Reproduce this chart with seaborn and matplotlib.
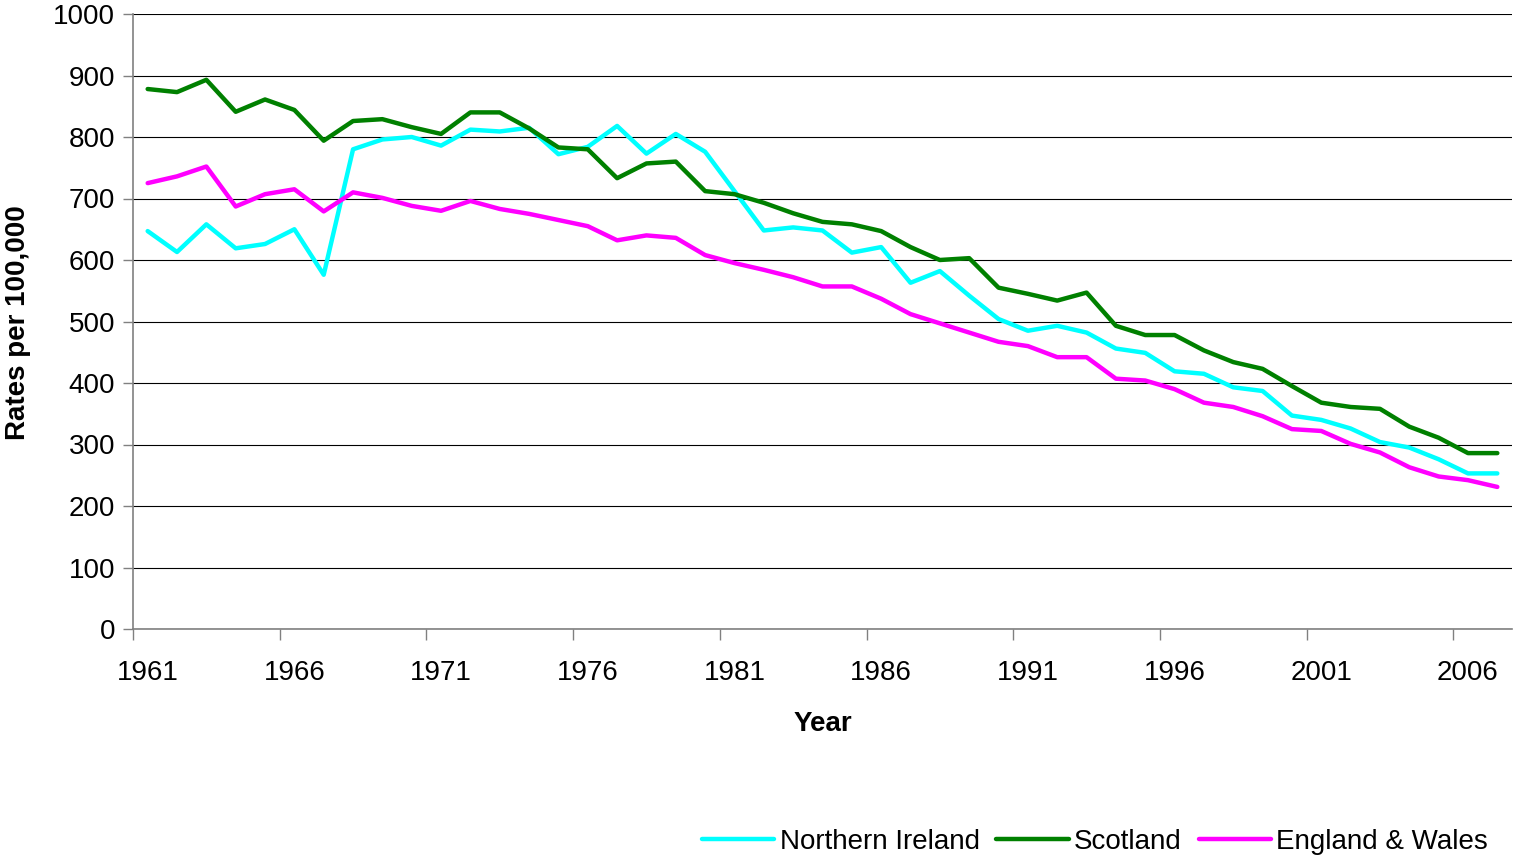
import numpy as np
import pandas as pd
import matplotlib
matplotlib.use("Agg")
import matplotlib.pyplot as plt
import seaborn as sns
from matplotlib.ticker import FixedLocator, NullFormatter, FixedFormatter

years = list(range(1961, 2008))

northern_ireland = [647, 613, 658, 619, 626, 650, 576, 780, 796, 800,
                    786, 812, 809, 815, 772, 784, 818, 773, 805, 776,
                    712, 648, 653, 648, 612, 621, 563, 582, 542, 504,
                    485, 493, 482, 456, 449, 419, 415, 393, 387, 347,
                    340, 326, 304, 295, 276, 253, 253]

scotland = [878, 873, 893, 841, 861, 844, 794, 826, 829, 816,
            805, 840, 840, 814, 783, 780, 733, 757, 760, 712,
            707, 693, 676, 662, 658, 647, 621, 600, 603, 555,
            545, 534, 547, 493, 478, 478, 453, 434, 423, 395,
            368, 361, 358, 329, 311, 286, 286]

england_wales = [725, 736, 752, 687, 707, 715, 679, 710, 701, 688,
                 680, 696, 683, 675, 665, 655, 632, 640, 636, 608,
                 595, 584, 572, 557, 557, 537, 512, 497, 482, 467,
                 460, 442, 442, 407, 404, 390, 368, 361, 346, 325,
                 322, 301, 287, 263, 248, 242, 231]

series_names = ["Northern Ireland", "Scotland", "England & Wales"]
series_colors = ["#00FFFF", "#008000", "#FF00FF"]
tick_years = [1961, 1966, 1971, 1976, 1981, 1986, 1991, 1996, 2001, 2006]
y_ticks = list(range(0, 1001, 100))

df = pd.DataFrame({
    "Year": years * 3,
    "Rate": northern_ireland + scotland + england_wales,
    "Country": sum([[n] * len(years) for n in series_names], []),
})

sns.set_theme(style="white")
plt.rcParams["font.family"] = ["Liberation Sans", "DejaVu Sans"]
plt.rcParams["text.color"] = "black"
plt.rcParams["xtick.color"] = "black"
plt.rcParams["ytick.color"] = "black"
plt.rcParams["axes.labelcolor"] = "black"

W, H = 1514, 857
fig = plt.figure(figsize=(W / 100, H / 100), dpi=100)
ax = fig.add_axes([133 / W, 1 - 629 / H, (1512 - 133) / W, (629 - 14) / H])

sns.lineplot(data=df, x="Year", y="Rate", hue="Country",
             hue_order=series_names, palette=series_colors,
             linewidth=3.2, ax=ax, legend=False, sort=False)

ax.set_xlim(years[0] - 0.5, years[-1] + 0.5)
ax.set_ylim(0, 1000)

# y axis
ax.set_yticks(y_ticks)
ax.set_yticklabels([str(v) for v in y_ticks])
ax.grid(axis="y", color="black", linewidth=0.8)
ax.grid(axis="x", visible=False)
ax.tick_params(axis="y", which="major", length=7, width=1, color="#808080",
               labelcolor="black", direction="out", labelsize=20, pad=6,
               left=True)

# x axis: tick marks at category boundaries, labels at category centers
boundaries = [y - 0.5 for y in tick_years]
ax.xaxis.set_major_locator(FixedLocator(boundaries))
ax.xaxis.set_major_formatter(NullFormatter())
ax.xaxis.set_minor_locator(FixedLocator(tick_years))
ax.xaxis.set_minor_formatter(FixedFormatter([str(y) for y in tick_years]))
ax.tick_params(axis="x", which="major", length=8, width=1, color="#808080",
               direction="out", bottom=True)
ax.tick_params(axis="x", which="minor", length=0, labelsize=20, pad=22,
               labelcolor="black", bottom=True)

for side in ["top", "right"]:
    ax.spines[side].set_visible(False)
for side in ["left", "bottom"]:
    ax.spines[side].set_color("#808080")
    ax.spines[side].set_linewidth(1.2)

ax.set_ylabel("")
ax.set_xlabel("Year", fontsize=20, fontweight="bold", color="black")
ax.xaxis.set_label_coords(0.5004, -0.134)
ax.xaxis.label.set_va("top")

fig.text(18 / W, 1 - 323 / H, "Rates per 100,000", rotation=90,
         ha="center", va="center", fontsize=20, fontweight="bold",
         color="black")

handles = [plt.Line2D([], [], color=c, linewidth=3.2) for c in series_colors]
fig.legend(handles, series_names, loc="center",
           bbox_to_anchor=(1095 / W, 1 - 842 / H), ncol=3, frameon=False,
           fontsize=20, handlelength=2.6, handletextpad=0.2,
           columnspacing=0.6, borderpad=0, labelcolor="black")

fig.savefig("out.png", dpi=100, facecolor="white")
